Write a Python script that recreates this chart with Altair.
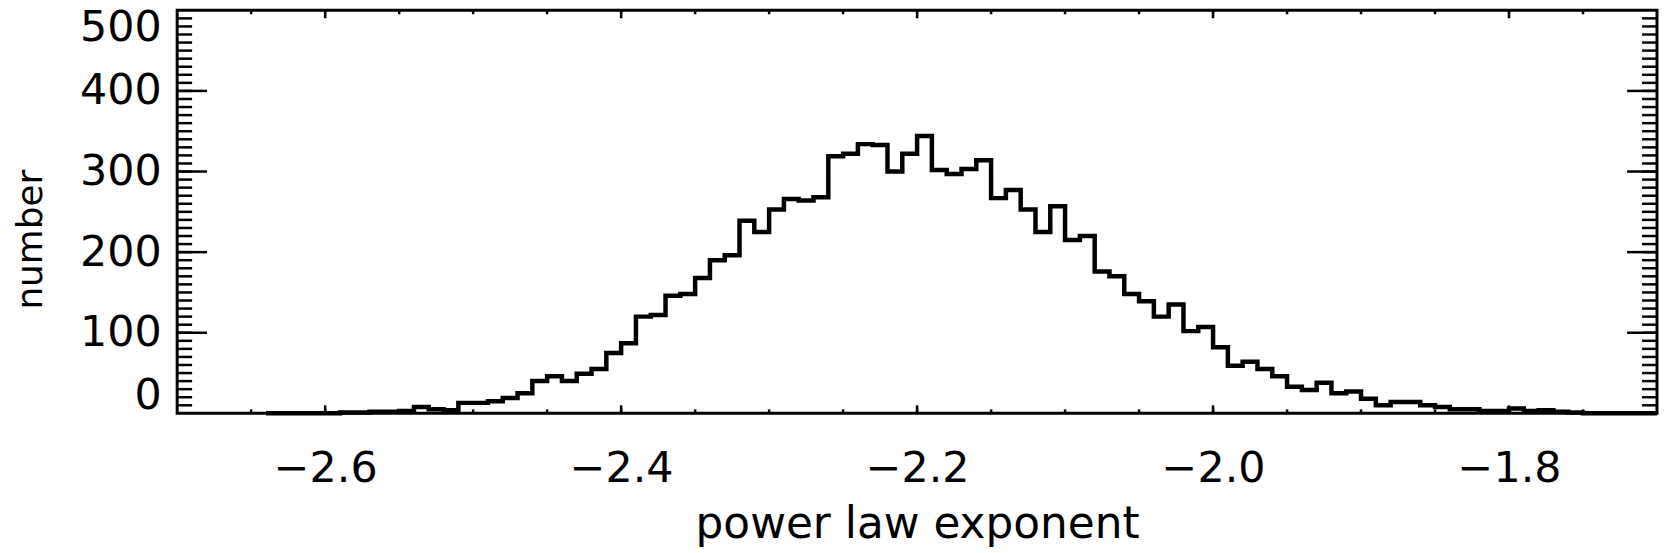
import altair as alt
import pandas as pd

# ---- data (bin width 0.01) ----
bin_width = 0.01
first_bin_left = -2.64
counts = [0, 0, 0, 0, 0, 1, 1, 2, 2, 3, 8, 5, 4, 13, 13, 15, 19, 25, 40,
          46, 40, 49, 55, 75, 87, 120, 122, 146, 148, 168, 190, 196, 239, 225,
          253, 266, 264, 268, 319, 322, 334, 333, 300, 322, 344, 302, 297, 303,
          314, 267, 277, 253, 225, 257, 215, 220, 176, 170, 148, 139, 120, 135,
          102, 107, 82, 59, 64, 55, 46, 33, 29, 38, 25, 27, 18, 10, 14, 14, 10,
          8, 5, 5, 3, 3, 6, 3, 4, 2, 1, 0, 0, 0, 0, 0]

x_domain = [-2.7, -1.7]
y_domain = [0, 500]
x_major = [-2.6, -2.4, -2.2, -2.0, -1.8]
x_minor = [round(-2.65 + 0.05 * i, 2) for i in range(19)]
y_major = [100, 200, 300, 400]
y_minor = list(range(10, 500, 10))
y_labels = [0, 100, 200, 300, 400, 500]

W, H = 1487, 405
FONT = "DejaVu Sans"

edges = [round(first_bin_left + i * bin_width, 3) for i in range(len(counts) + 1)]
hist = pd.DataFrame({"x": edges, "y": counts + [counts[-1]]})

xs = alt.Scale(domain=x_domain, nice=False, zero=False)
ys = alt.Scale(domain=y_domain, nice=False, zero=True)

line = alt.Chart(hist).mark_line(
    interpolate="step-after", color="black", strokeWidth=4.5
).encode(
    x=alt.X("x:Q", scale=xs, axis=alt.Axis(
        title="power law exponent", values=x_major, format=".1f",
        ticks=False, tickSize=0, domain=False, grid=False,
        labelFont=FONT, labelFontSize=43, labelColor="black", labelPadding=34,
        titleFont=FONT, titleFontSize=44, titleFontWeight="normal", titleColor="black",
        titleBaseline="alphabetic", titleY=125, titleX=W / 2, titleAlign="center")),
    y=alt.Y("y:Q", scale=ys, axis=alt.Axis(
        title="number", values=y_labels, format="d",
        ticks=False, tickSize=0, domain=False, grid=False,
        labelFlush=True, labelFlushOffset=4,
        labelFont=FONT, labelFontSize=43, labelColor="black", labelPadding=16,
        titleFont=FONT, titleFontSize=36, titleFontWeight="normal", titleColor="black",
        titleAngle=270, titleBaseline="alphabetic", titleAlign="center",
        titleX=-136, titleY=230)),
)


def xticks(vals, length, top):
    df = pd.DataFrame({"v": vals})
    if top:
        yv, y2v = alt.value(0), alt.value(length)
    else:
        yv, y2v = alt.value(H), alt.value(H - length)
    return alt.Chart(df).mark_rule(color="black", strokeWidth=2.5).encode(
        x=alt.X("v:Q", scale=xs, axis=None), y=yv, y2=y2v)


def yticks(vals, length, right):
    df = pd.DataFrame({"v": vals})
    if right:
        xv, x2v = alt.value(W), alt.value(W - length)
    else:
        xv, x2v = alt.value(0), alt.value(length)
    return alt.Chart(df).mark_rule(color="black", strokeWidth=2.5).encode(
        y=alt.Y("v:Q", scale=ys, axis=None), x=xv, x2=x2v)


chart = alt.layer(
    line,
    xticks(x_minor, 4, False), xticks(x_major, 8, False),
    xticks(x_minor, 4, True), xticks(x_major, 8, True),
    yticks(y_minor, 15, False), yticks(y_major, 30, False),
    yticks(y_minor, 15, True), yticks(y_major, 30, True),
).resolve_axis(
    x="independent", y="independent"
).properties(
    width=W, height=H,
    padding={"left": 170, "right": 2, "top": 1, "bottom": 139},
    autosize=alt.AutoSizeParams(type="none"),
    background="white",
).configure_view(stroke="black", strokeWidth=3)

chart.save("out.html", embed_options={"renderer": "svg", "actions": False})
